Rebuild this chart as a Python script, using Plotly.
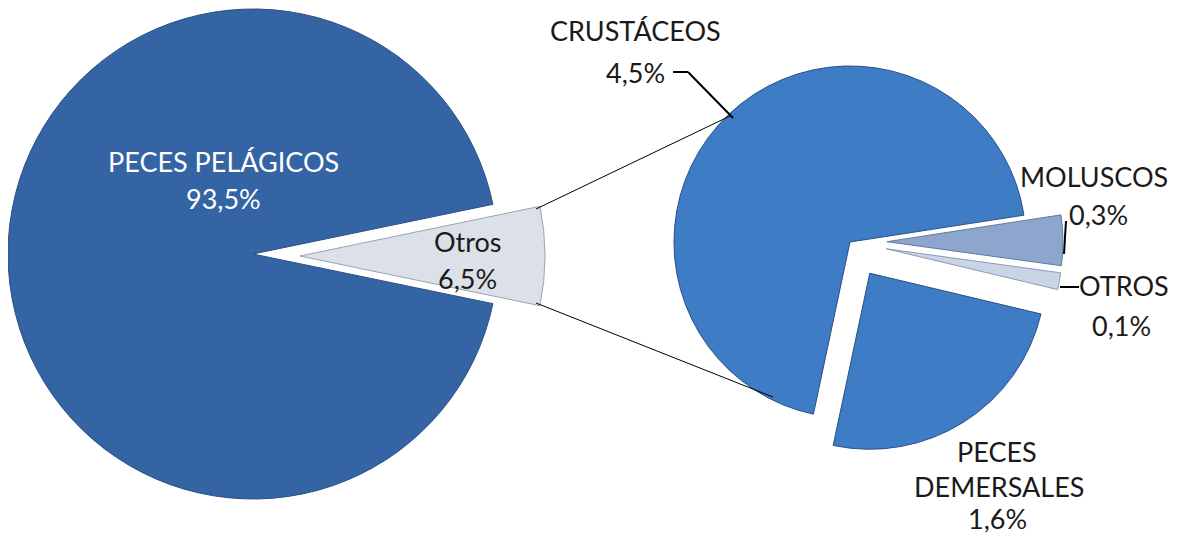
import plotly.graph_objects as go

# the page body keeps its default 8px margin, so the figure is sized to fit inside it
W, H = 1163, 526
OX, OY = 8, 8
FONT = "Lato"
FS = 27

# main pie: "Otros" is broken out into the secondary pie
main_labels = ["Otros", "PECES PELÁGICOS"]
main_values = [6.5, 93.5]

# secondary pie (shares of the total catch)
sub_labels = ["CRUSTÁCEOS", "MOLUSCOS", "OTROS", "PECES DEMERSALES"]
sub_values = [4.5, 0.3, 0.1, 1.6]

MAIN_BLUE = "#3464a3"
SUB_BLUE = "#3e7cc6"
OTROS_GREY = "#dce0e8"
MOL_COLOR = "#8ea6cd"
OTR_COLOR = "#c9d4e7"
EDGE = "#2b4f82"


def pct(v):
    return f"{v:.1f}".replace(".", ",") + "%"


# positions below are screen pixels of the 1179x542 window
def px(x):
    return (x - OX) / W


def py(y):
    return 1 - (y - OY) / H


def domain(cx, cy, half):
    x0, x1 = max(px(cx - half), 0), min(px(cx + half), 1)
    y0, y1 = max(py(cy + half), 0), min(py(cy - half), 1)
    return dict(x=[x0, x1], y=[y0, y1])


main_rot = 90 - 360 * main_values[0] / sum(main_values) / 2

fig = go.Figure()

# big pie, with the broken-out slice left empty
fig.add_trace(go.Pie(
    labels=main_labels, values=main_values, sort=False,
    direction="clockwise", rotation=main_rot,
    marker=dict(colors=["rgba(0,0,0,0)", MAIN_BLUE],
                line=dict(color=["rgba(0,0,0,0)", EDGE], width=1)),
    textinfo="none", hoverinfo="label+percent",
    domain=domain(253, 254, 245), showlegend=False,
))

# exploded "Otros" slice of the big pie
fig.add_trace(go.Pie(
    labels=main_labels, values=main_values, sort=False,
    direction="clockwise", rotation=main_rot,
    marker=dict(colors=[OTROS_GREY, "rgba(0,0,0,0)"],
                line=dict(color=["#9aa3b3", "rgba(0,0,0,0)"], width=1)),
    textinfo="none", hoverinfo="skip",
    domain=domain(300, 256, 245), showlegend=False,
))

# secondary pie
fig.add_trace(go.Pie(
    labels=sub_labels, values=sub_values, sort=False,
    direction="clockwise", rotation=-168,
    pull=[0, 0.21, 0.21, 0.21],
    marker=dict(colors=[SUB_BLUE, MOL_COLOR, OTR_COLOR, SUB_BLUE],
                line=dict(color=[EDGE, "#5f7aa6", "#8c9bb5", EDGE], width=1)),
    textinfo="none", hoverinfo="label+value",
    domain=domain(850, 242, 213), showlegend=False,
))

shapes = []


def seg(x0, y0, x1, y1, w=1):
    shapes.append(dict(type="line", xref="paper", yref="paper",
                       x0=px(x0), y0=py(y0), x1=px(x1), y1=py(y1),
                       line=dict(color="black", width=w)))


# connector lines between the pies
seg(536, 209, 730, 116)
seg(536, 303, 773, 397)

# leader lines
seg(673, 72, 688, 72, 2)
seg(688, 72, 733, 118, 2)
seg(1066, 221, 1064, 254, 2)
seg(1060, 287, 1079, 287, 2)

annotations = []


def label(lines, x, ys, color="#1a1a1a", xs=None):
    for i, t in enumerate(lines):
        xx = xs[i] if xs else x
        annotations.append(dict(text=t, x=px(xx), y=py(ys[i] + 2), xref="paper", yref="paper",
                                showarrow=False, xanchor="center", yanchor="middle",
                                font=dict(family=FONT, size=FS, color=color)))


label([main_labels[1], pct(main_values[1])], 223, [160, 197], color="white")
label([main_labels[0], pct(main_values[0])], 468, [240, 276])
label([sub_labels[0], pct(sub_values[0])], 635, [29, 70])
label([sub_labels[1], pct(sub_values[1])], 1094, [174, 212], xs=[1094, 1098])
label([sub_labels[2], pct(sub_values[2])], 1124, [283, 323], xs=[1124, 1121])
label(sub_labels[3].split(" ") + [pct(sub_values[3])], 997, [449, 484, 516], xs=[997, 999, 997])

fig.update_layout(
    width=W, height=H,
    margin=dict(l=0, r=0, t=0, b=0),
    paper_bgcolor="white", plot_bgcolor="white",
    shapes=shapes, annotations=annotations,
    showlegend=False,
)

fig.write_html("out.html")
